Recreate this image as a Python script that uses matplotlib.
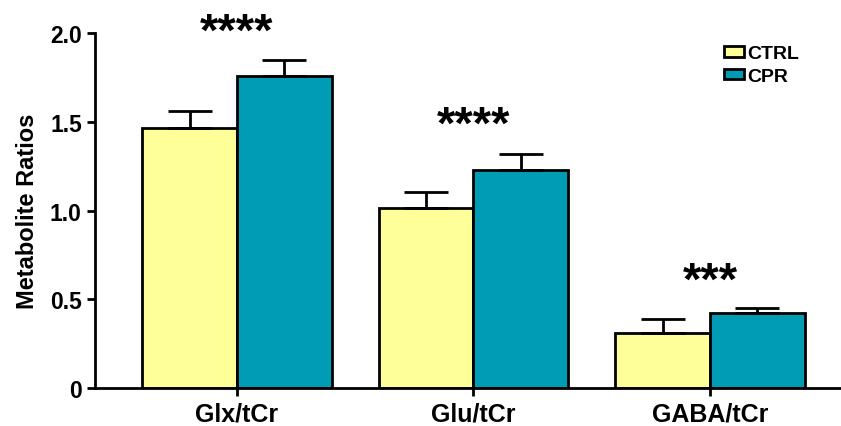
import matplotlib.pyplot as plt
import numpy as np

plt.rcParams['font.family'] = ['Liberation Sans', 'DejaVu Sans']
plt.rcParams['font.weight'] = 'bold'

categories = ['Glx/tCr', 'Glu/tCr', 'GABA/tCr']
ctrl = [1.465, 1.015, 0.31]
ctrl_err = [0.095, 0.09, 0.08]
cpr = [1.758, 1.23, 0.42]
cpr_err = [0.09, 0.09, 0.03]
stars = ['****', '****', '***']
star_y = [2.0, 1.48, 0.6]

x = np.arange(len(categories))
w = 0.4

fig = plt.figure(figsize=(8.41, 4.27), dpi=100)
ax = fig.add_axes([0.113, 0.089, 0.887, 0.831])

err_kw = dict(ecolor='black', elinewidth=2, capsize=16, capthick=2)
ax.bar(x - w/2, ctrl, w, color='#FFFF99', edgecolor='black', linewidth=2,
       yerr=[np.zeros(3), ctrl_err], error_kw=err_kw, label='CTRL', zorder=2)
ax.bar(x + w/2, cpr, w, color='#009BB4', edgecolor='black', linewidth=2,
       yerr=[np.zeros(3), cpr_err], error_kw=err_kw, label='CPR', zorder=2)

for xi, s, yi in zip(x, stars, star_y):
    ax.text(xi, yi, s, ha='center', va='center', fontsize=34, fontweight='bold',
            clip_on=False)

ax.set_xlim(-0.6, 2.554)
ax.set_ylim(0, 2.0)
ax.set_yticks([0, 0.5, 1.0, 1.5, 2.0])
ax.set_yticklabels(['0', '0.5', '1.0', '1.5', '2.0'])
ax.set_xticks(x)
ax.set_xticklabels(categories)
ax.tick_params(axis='both', labelsize=16.5, width=2, length=6)
ax.tick_params(axis='x', labelsize=18)
ax.set_ylabel('Metabolite Ratios', fontsize=17, fontweight='bold', labelpad=8)

for side in ['top', 'right']:
    ax.spines[side].set_visible(False)
for side in ['left', 'bottom']:
    ax.spines[side].set_linewidth(2)

ax.legend(loc='upper left', bbox_to_anchor=(0.82, 1.015), frameon=False,
          fontsize=14, handlelength=1.0, handleheight=0.45, handletextpad=0.2,
          labelspacing=0.3)

fig.savefig('out.png', dpi=100)
